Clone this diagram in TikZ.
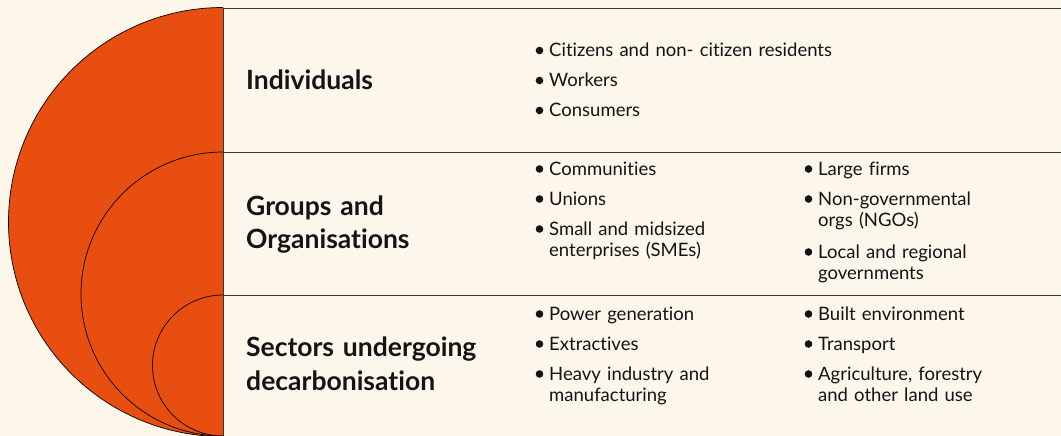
\documentclass[tikz,border=0pt]{standalone}
\usepackage{fontspec}
\setmainfont{Lato}[Ligatures={NoCommon}]

\definecolor{cream}{HTML}{FDF6EA}
\definecolor{burnt}{HTML}{E84E0F}
\definecolor{ink}{HTML}{141414}

\tikzset{
  heading/.style={anchor=base west, inner sep=0pt, text width=270pt, align=left,
    font=\fontsize{26.5}{33.5}\selectfont\bfseries, text=ink},
  item/.style={anchor=base west, inner sep=0pt, text width=330pt, align=left,
    font=\fontsize{18.5}{21.5}\selectfont, text=ink},
  rule/.style={draw=ink!85, line width=0.9pt},
  ring/.style={draw=black, line width=0.7pt},
}

\begin{document}
\begin{tikzpicture}[x=1pt,y=-1pt]
    \fill[cream] (0,0) rectangle (1061,436);
    \useasboundingbox (0,0) rectangle (1061,436);

    % Nested half discs, all touching at the bottom
    \begin{scope}
      \clip (0,0) rectangle (223,436);
      \fill[burnt] (223,222) circle (214.5);
      \draw[ring] (223,222) circle (214.5);
      \draw[ring] (223,294) circle (142);
      \draw[ring] (223,365.5) circle (70.5);
    \end{scope}

    % Row dividers
    \draw[rule] (223,8) -- (1061,8);
    \draw[rule] (223,152) -- (1061,152);
    \draw[rule] (223,295) -- (1061,295);
    \draw[rule] (223,8) -- (223,436);

    % Row headings
    \node[heading] (indiv) at (246,90) {Individuals};
    \node[heading] (groups) at (246,215) {Groups and\\Organisations};
    \node[heading] (sectors) at (246,356.5) {Sectors undergoing\\decarbonisation};

    % Bullet items
    \node[item] (ind1) at (549,56.5) {Citizens and non- citizen residents};
    \node[item] (ind2) at (549,86.5) {Workers};
    \node[item] (ind3) at (549,116.5) {Consumers};

    \node[item] (grp1) at (549,175) {Communities};
    \node[item] (grp2) at (549,205) {Unions};
    \node[item] (grp3) at (549,235) {Small and midsized\\enterprises (SMEs)};
    \node[item] (grp4) at (818,175) {Large firms};
    \node[item] (grp5) at (818,205) {Non-governmental\\orgs (NGOs)};
    \node[item] (grp6) at (818,258) {Local and regional\\governments};

    \node[item] (sec1) at (549,320) {Power generation};
    \node[item] (sec2) at (549,350) {Extractives};
    \node[item] (sec3) at (549,380) {Heavy industry and\\manufacturing};
    \node[item] (sec4) at (818,320) {Built environment};
    \node[item] (sec5) at (818,350) {Transport};
    \node[item] (sec6) at (818,380) {Agriculture, forestry\\and other land use};

    \foreach \n in {ind1,ind2,ind3,grp1,grp2,grp3,grp4,grp5,grp6,sec1,sec2,sec3,sec4,sec5,sec6}
      \fill[ink] ([xshift=-9.5pt,yshift=6pt]\n.base west) circle (3.8pt);
  \end{tikzpicture}
\end{document}
